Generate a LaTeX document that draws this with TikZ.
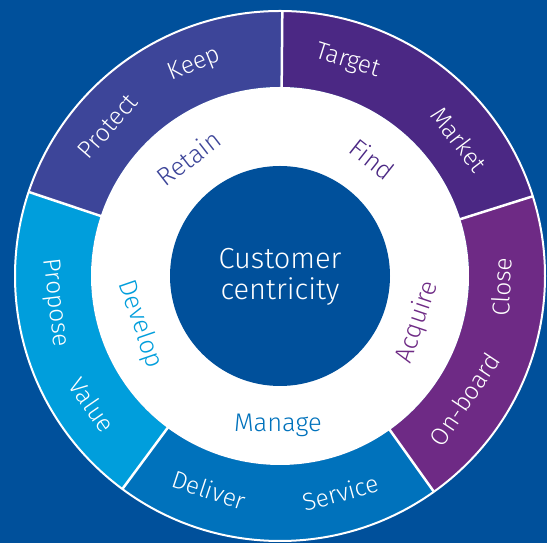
\documentclass[tikz,border=0pt]{standalone}
\usepackage{fontspec}
\setmainfont{Fira Sans}[UprightFont={* Light}]
\definecolor{bgblue}{HTML}{00509B}
\definecolor{segA}{HTML}{3D4599}
\definecolor{segB}{HTML}{009EDC}
\definecolor{segC}{HTML}{0072BC}
\definecolor{segD}{HTML}{6E2A85}
\definecolor{segE}{HTML}{4B2884}
\newcommand{\ringseg}[3]{\fill[#1] (#2:265) arc[start angle=#2,end angle=#3,radius=265] -- (#3:189) arc[start angle=#3,end angle=#2,radius=189] -- cycle;}
\tikzset{
  outerlbl/.style={text=white, font=\fontsize{24.5}{28}\selectfont, inner sep=0pt},
  innerlbl/.style={font=\fontsize{25.5}{29}\selectfont, inner sep=0pt},
  centerlbl/.style={text=white, font=\fontsize{29}{31}\selectfont, align=center, inner sep=0pt},
  sepline/.style={white, line width=2.5pt},
}
\begin{document}
\begin{tikzpicture}[x=1pt,y=1pt]
\useasboundingbox (0,0) rectangle (547,543);
\fill[bgblue] (0,0) rectangle (547,543);
\begin{scope}[shift={(280,267)}]
  \ringseg{segA}{89.5}{161.5}
  \ringseg{segB}{161.5}{233.5}
  \ringseg{segC}{233.5}{305.5}
  \ringseg{segD}{305.5}{377.5}
  \ringseg{segE}{17.5}{89.5}
  \foreach \a in {17.5,89.5,161.5,233.5,305.5}{\draw[sepline] (\a:188) -- (\a:265);}
  \draw[white, line width=2pt] (0,0) circle (265);
  \fill[white] (0,0) circle (189);
  \fill[bgblue] (0,0) circle (110);
  \node[centerlbl] (cc) at (0,-1) {Customer\\centricity};
  % inner labels
  \node[innerlbl, text=segA, rotate=37.8] (retain) at (127.8:149) {Retain};
  \node[innerlbl, text=segE, rotate=-38.4] (find) at (51.6:149) {Find};
  \node[innerlbl, text=segD, rotate=71.4] (acquire) at (-18.6:145) {Acquire};
  \node[innerlbl, text=segC, rotate=0] (manage) at (269.2:149) {Manage};
  \node[innerlbl, text=segB, rotate=289] (develop) at (199:148) {Develop};
  % outer labels
  \node[outerlbl, rotate=22] (keep) at (112:228) {Keep};
  \node[outerlbl, rotate=49] (protect) at (139:228) {Protect};
  \node[outerlbl, rotate=-17.5] (target) at (72.5:225) {Target};
  \node[outerlbl, rotate=-52.6] (market) at (37.4:225) {Market};
  \node[outerlbl, rotate=87.1] (close) at (-2.9:222) {Close};
  \node[outerlbl, rotate=56.2] (onboard) at (-33.8:222) {On-board};
  \node[outerlbl, rotate=341.6] (deliver) at (251.6:225) {Deliver};
  \node[outerlbl, rotate=375.5] (service) at (285.5:225) {Service};
  \node[outerlbl, rotate=276.8] (propose) at (186.8:227) {Propose};
  \node[outerlbl, rotate=304.5] (value) at (214.5:228) {Value};
\end{scope}
\end{tikzpicture}
\end{document}
